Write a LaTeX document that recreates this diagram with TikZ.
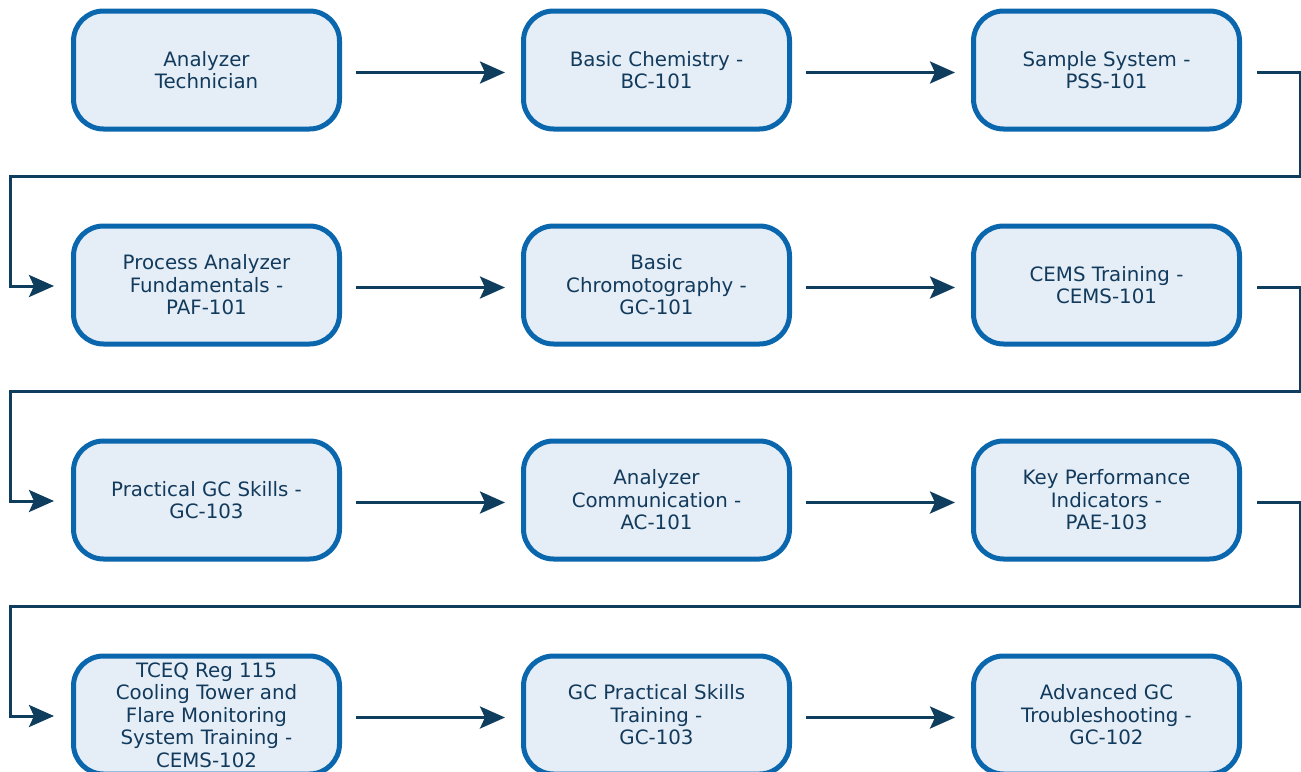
\documentclass[tikz,border=0pt]{standalone}
\usepackage{fontspec}
\setmainfont{DejaVu Sans}
\usetikzlibrary{arrows.meta}
\definecolor{boxline}{HTML}{0A66AD}
\definecolor{boxfill}{HTML}{E5EEF6}
\definecolor{txt}{HTML}{123A5C}
\definecolor{conn}{HTML}{0E3D5E}
\tikzset{
  course/.style={draw=boxline, fill=boxfill, line width=5pt, rounded corners=30pt,
    minimum width=266pt, minimum height=118pt, inner sep=0pt, align=center,
    text=txt, font=\fontsize{19.8pt}{22.5pt}\selectfont},
  link/.style={draw=conn, line width=3pt, -{Stealth[length=25pt,width=22pt,inset=5pt]}},
  wrap/.style={draw=conn, line width=3pt, -{Stealth[length=25pt,width=22pt,inset=5pt]}}
}
\begin{document}
\begin{tikzpicture}[x=1pt,y=-1pt]
\useasboundingbox (0,0) rectangle (1301,771);
% row 1
\node[course] (a1) at (206.5,70) {Analyzer\\Technician};
\node[course] (a2) at (656.5,70) {Basic Chemistry -\\BC-101};
\node[course] (a3) at (1106.5,70) {Sample System -\\PSS-101};
% row 2
\node[course] (b1) at (206.5,285) {Process Analyzer\\Fundamentals -\\PAF-101};
\node[course] (b2) at (656.5,285) {Basic\\Chromotography -\\GC-101};
\node[course] (b3) at (1106.5,285) {CEMS Training -\\CEMS-101};
% row 3
\node[course] (c1) at (206.5,500) {Practical GC Skills -\\GC-103};
\node[course] (c2) at (656.5,500) {Analyzer\\Communication -\\AC-101};
\node[course] (c3) at (1106.5,500) {Key Performance\\Indicators -\\PAE-103};
% row 4
\node[course] (d1) at (206.5,715) {TCEQ Reg 115\\Cooling Tower and\\Flare Monitoring\\System Training -\\CEMS-102};
\node[course] (d2) at (656.5,715) {GC Practical Skills\\Training -\\GC-103};
\node[course] (d3) at (1106.5,715) {Advanced GC\\Troubleshooting -\\GC-102};

% horizontal links
\foreach \p/\q in {a1/a2,a2/a3,b1/b2,b2/b3,c1/c2,c2/c3,d1/d2,d2/d3}{
  \draw[link] ([xshift=14pt,yshift=-2.5pt]\p.east) -- ([xshift=-16pt,yshift=-2.5pt]\q.west);
}

% wrap-around connectors
\coordinate (r1) at (1300,176);
\coordinate (r2) at (1300,391);
\coordinate (r3) at (1300,606);
\coordinate (l1) at (10,176);
\coordinate (l2) at (10,391);
\coordinate (l3) at (10,606);
\draw[wrap] ([xshift=15pt,yshift=-2.5pt]a3.east) -| (r1) -- (l1) |- ([xshift=-17pt,yshift=-1pt]b1.west);
\draw[wrap] ([xshift=15pt,yshift=-2.5pt]b3.east) -| (r2) -- (l2) |- ([xshift=-17pt,yshift=-1pt]c1.west);
\draw[wrap] ([xshift=15pt,yshift=-2.5pt]c3.east) -| (r3) -- (l3) |- ([xshift=-17pt,yshift=-1pt]d1.west);
\end{tikzpicture}
\end{document}
